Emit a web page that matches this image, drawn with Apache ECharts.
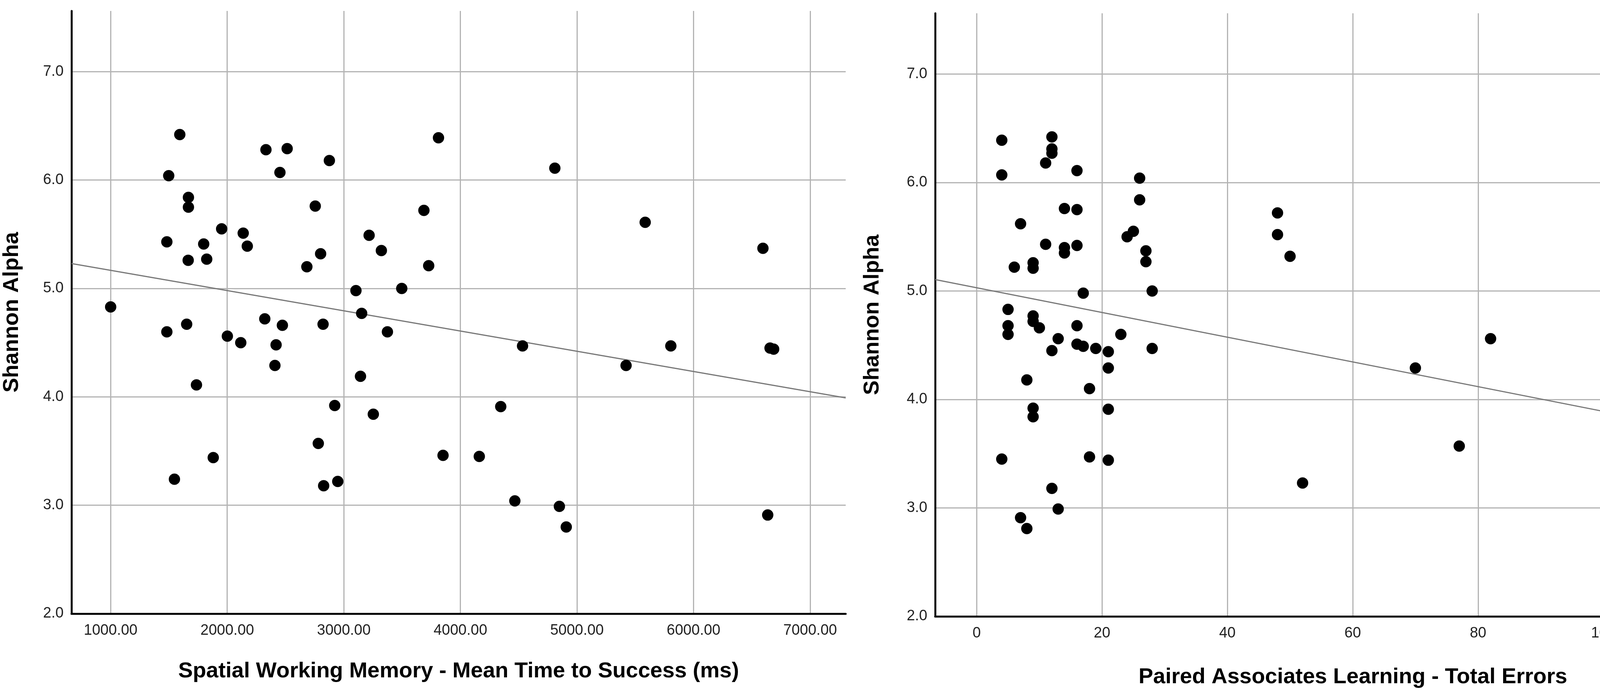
<!DOCTYPE html>
<html>
<head>
<meta charset="utf-8">
<title>Shannon Alpha vs CANTAB scores</title>
<script src="https://cdn.jsdelivr.net/npm/echarts@6/dist/echarts.min.js"></script>
<style>
  html, body { margin: 0; padding: 0; background: #fff; }
  #chart { width: 4544px; height: 1773px; }
</style>
</head>
<body>
<div id="chart"></div>
<script>
// Left panel: Spatial Working Memory mean time to success (ms) vs Shannon alpha
const swmTime = [
  1593, 1498, 2332, 2514, 2452, 2876, 3812, 1667, 1667, 2755,
  3687, 1952, 2137, 1482, 1798, 2172, 3217, 3322, 2801, 1665,
  1824, 2683, 3728, 3104, 3497, 1000, 3153, 1652, 1482, 2322,
  2473, 2822, 3374, 2001, 2116, 2419,
  2409, 1736, 3143, 2922, 3253, 2781, 1880, 3851, 1547, 2827, 2948,
  4810, 5585, 6595,
  4533, 5805, 5421, 6656, 6687, 4346, 4162, 4467, 4849, 4908, 6636
];
const swmAlpha = [
  6.42, 6.04, 6.28, 6.29, 6.07, 6.18, 6.39, 5.84, 5.75, 5.76,
  5.72, 5.55, 5.51, 5.43, 5.41, 5.39, 5.49, 5.35, 5.32, 5.26,
  5.27, 5.20, 5.21, 4.98, 5.00, 4.83, 4.77, 4.67, 4.60, 4.72,
  4.66, 4.67, 4.60, 4.56, 4.50, 4.48,
  4.29, 4.11, 4.19, 3.92, 3.84, 3.57, 3.44, 3.46, 3.24, 3.18, 3.22,
  6.11, 5.61, 5.37,
  4.47, 4.47, 4.29, 4.45, 4.44, 3.91, 3.45, 3.04, 2.99, 2.80, 2.91
];
// fit line at the two ends of the x range
const swmFit = [[664, 5.23], [7305, 3.99]];

// Right panel: Paired Associates Learning total errors vs Shannon alpha
const palErrors = [
  4, 4, 12, 12, 12, 11, 16, 26, 26, 14,
  16, 7, 25, 24, 48, 48, 50, 11, 14, 14,
  16, 27, 27, 9, 9, 6, 17, 28, 5, 9,
  9, 5, 5, 10, 16, 23, 13,
  16, 17, 19, 12, 21, 28, 21, 8, 18, 9,
  9, 21, 4, 18, 21, 52, 12, 13, 7, 8,
  82, 70, 77, 114, 112
];
const palAlpha = [
  6.39, 6.07, 6.42, 6.31, 6.27, 6.18, 6.11, 6.04, 5.84, 5.76,
  5.75, 5.62, 5.55, 5.50, 5.72, 5.52, 5.32, 5.43, 5.40, 5.35,
  5.42, 5.37, 5.27, 5.26, 5.21, 5.22, 4.98, 5.00, 4.83, 4.77,
  4.72, 4.68, 4.60, 4.66, 4.68, 4.60, 4.56,
  4.51, 4.49, 4.47, 4.45, 4.44, 4.47, 4.29, 4.18, 4.10, 3.92,
  3.84, 3.91, 3.45, 3.47, 3.44, 3.23, 3.18, 2.99, 2.91, 2.81,
  4.56, 4.29, 3.57, 3.24, 3.05
];
const palFit = [[-6.63, 5.105], [126.7, 3.586]];

const yTitle = "Shannon Alpha";
const xTitles = [
  "Spatial Working Memory - Mean Time to Success (ms)",
  "Paired Associates Learning - Total Errors"
];

const FONT = "'Liberation Sans', Arial, Helvetica, sans-serif";

const zip = (xs, ys) => xs.map((x, i) => [x, ys[i]]);

const axisLine = { onZero: false, lineStyle: { color: "#000", width: 5 } };
const gridLine = {
  show: true,
  showMinLine: false,
  showMaxLine: false,
  lineStyle: { color: "#b4b4b4", width: 3 }
};
const tickText = { fontFamily: FONT, fontSize: 38, color: "#222" };
const titleText = { fontFamily: FONT, fontSize: 56, fontWeight: "bold", color: "#000" };

const makeX = (idx, min, max, splitNumber, decimals, gap) => ({
  type: "value",
  gridIndex: idx,
  min: min,
  max: max,
  splitNumber: splitNumber,
  name: xTitles[idx],
  nameLocation: "middle",
  nameGap: gap,
  nameTextStyle: titleText,
  axisLine: axisLine,
  axisTick: { show: false },
  axisLabel: Object.assign({
    margin: 25,
    showMinLabel: false,
    showMaxLabel: false,
    formatter: (v) => v.toFixed(decimals)
  }, tickText),
  splitLine: gridLine
});

const makeY = (idx, gap) => ({
  type: "value",
  gridIndex: idx,
  min: 2,
  max: 7.56,
  splitNumber: 5,
  name: yTitle,
  nameLocation: "middle",
  nameGap: gap,
  nameRotate: 90,
  nameTextStyle: titleText,
  axisLine: axisLine,
  axisTick: { show: false },
  axisLabel: Object.assign({
    margin: 20,
    padding: [16, 0, 0, 0],
    showMaxLabel: false,
    formatter: (v) => v.toFixed(1)
  }, tickText),
  splitLine: gridLine
});

const dots = (idx, data) => ({
  type: "scatter",
  xAxisIndex: idx,
  yAxisIndex: idx,
  data: data,
  symbolSize: 29,
  itemStyle: { color: "#000", opacity: 1 },
  z: 3
});

const fitLine = (idx, data) => ({
  type: "line",
  xAxisIndex: idx,
  yAxisIndex: idx,
  data: data,
  symbol: "none",
  lineStyle: { color: "#777", width: 3 },
  z: 2
});

const chart = echarts.init(document.getElementById("chart"), null, { renderer: "canvas" });

chart.setOption({
  animation: false,
  backgroundColor: "#fff",
  textStyle: { fontFamily: FONT },
  grid: [
    { left: 183, top: 28, width: 1982, height: 1542 },
    { left: 2394, top: 34, width: 2139, height: 1543 }
  ],
  xAxis: [
    makeX(0, 664, 7305, 7, 2, 120),
    makeX(1, -6.63, 126.7, 6, 0, 128)
  ],
  yAxis: [
    makeY(0, 124),
    makeY(1, 132)
  ],
  series: [
    fitLine(0, swmFit),
    dots(0, zip(swmTime, swmAlpha)),
    fitLine(1, palFit),
    dots(1, zip(palErrors, palAlpha))
  ]
});
</script>
</body>
</html>
